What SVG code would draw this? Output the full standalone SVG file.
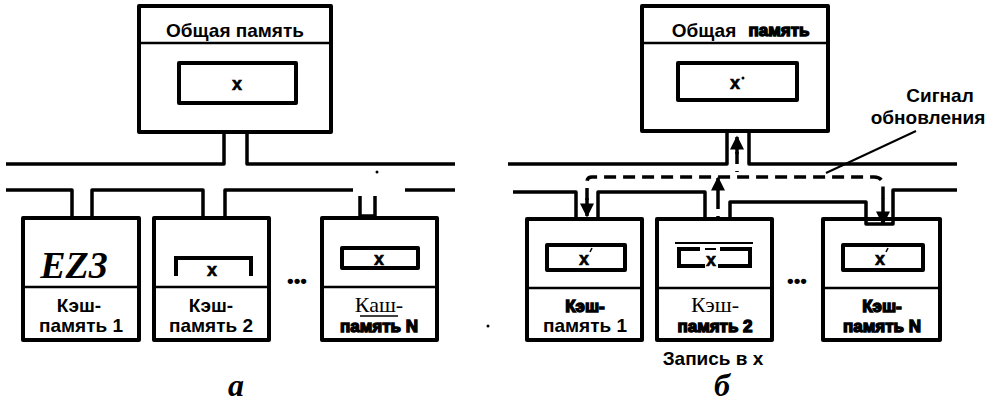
<svg xmlns="http://www.w3.org/2000/svg" width="995" height="406" viewBox="0 0 995 406">
<defs>
<style>
.box{fill:#fff;stroke:#000;stroke-width:4;stroke-linejoin:round}
.sep{stroke:#000;stroke-width:2.5}
.ibox{fill:#fff;stroke:#000;stroke-width:4;stroke-linejoin:round}
.wire{fill:none;stroke:#000;stroke-width:3.5;stroke-linejoin:round}
.thin{fill:none;stroke:#000;stroke-width:2}
.dash{fill:none;stroke:#000;stroke-width:3.5;stroke-dasharray:12 7}
.t{font-family:"Liberation Sans",Arial,sans-serif;font-weight:bold;font-size:19px;text-anchor:middle;fill:#000}
.heavy{font-family:"Liberation Sans",Arial,sans-serif;font-weight:bold;font-size:17px;text-anchor:middle;fill:#000;stroke:#000;stroke-width:1.4}
.serif{font-family:"Liberation Serif","Times New Roman",serif;font-size:22px;text-anchor:middle;fill:#000}
.x{font-family:"Liberation Sans",Arial,sans-serif;font-weight:bold;font-size:18px;text-anchor:middle;fill:#000;stroke:#000;stroke-width:0.6}
.cap{font-family:"Liberation Serif","Times New Roman",serif;font-weight:bold;font-style:italic;text-anchor:middle;fill:#000}
</style>
<marker id="ah" viewBox="0 0 10 10" refX="9" refY="5" markerWidth="5" markerHeight="4" orient="auto" markerUnits="strokeWidth">
<path d="M0,0 L10,5 L0,10 z" fill="#000"/>
</marker>
</defs>

<!-- ===== Part a ===== -->
<g id="a-mem">
<rect class="box" x="139" y="6" width="192" height="126"/>
<line class="sep" x1="139" y1="43" x2="331" y2="43"/>
<text class="t" x="235" y="37" font-size="20">Общая память</text>
<rect class="ibox" x="179" y="63" width="117" height="40"/>
<text class="x" x="237" y="90">x</text>
</g>
<g id="a-cache1">
<rect class="box" x="23" y="218" width="116" height="122"/>
<line class="sep" x1="23" y1="287" x2="139" y2="287"/>
<text class="cap" x="74" y="278" font-size="38">EZ3</text>
<text class="t" x="79" y="312">Кэш-</text>
<text class="t" x="81" y="332">память 1</text>
</g>
<g id="a-cache2">
<rect class="box" x="154" y="218" width="115" height="122"/>
<line class="sep" x1="154" y1="287" x2="269" y2="287"/>
<path d="M176,276 V258 H251 V276" fill="none" stroke="#000" stroke-width="4"/>
<text class="x" x="212" y="276">x</text>
<text class="t" x="211" y="312">Кэш-</text>
<text class="t" x="211" y="332">память 2</text>
</g>
<g id="a-cacheN">
<rect class="box" x="322" y="218" width="115" height="122"/>
<line class="sep" x1="322" y1="287" x2="437" y2="287"/>
<rect class="ibox" x="342" y="248" width="76" height="20"/>
<text class="x" x="379" y="265">x</text>
<text class="serif" x="379" y="312">Каш-</text>
<line x1="360" y1="316" x2="398" y2="316" stroke="#000" stroke-width="1.5"/>
<text class="heavy" x="379" y="332">память N</text>
</g>
<g id="a-dots">
<text class="t" x="297" y="287">•••</text>
<circle cx="488" cy="326" r="1.5" fill="#000"/>
<circle cx="377" cy="172" r="1.5" fill="#000"/>
</g>
<text class="cap" x="236" y="396" font-size="32">a</text>

<g id="a-connectors">
<path class="wire" d="M6,164 H224 V132"/>
<path class="wire" d="M247,132 V164 H455"/>
<path class="wire" d="M6,190 H72 V218"/>
<path class="wire" d="M92,218 V190 H203 V218"/>
<path class="wire" d="M225,218 V190 H353"/>
<path class="wire" d="M360,196 V216 H375 V196" stroke-width="2.5"/>
<path class="wire" d="M405,190 H455"/>
</g>

<!-- ===== Part b ===== -->
<g id="b-mem">
<rect class="box" x="642" y="6" width="186" height="125"/>
<line class="sep" x1="642" y1="43" x2="828" y2="43"/>
<text class="t" x="704" y="37" font-size="20">Общая</text>
<text class="heavy" x="779" y="36">память</text>
<rect class="ibox" x="678" y="63" width="119" height="37"/>
<text class="x" x="735" y="89">x</text>
<circle cx="743" cy="78" r="1.5" fill="#000"/>
</g>
<g id="b-cache1">
<rect class="box" x="527" y="219" width="115" height="121"/>
<line class="sep" x1="527" y1="288" x2="642" y2="288"/>
<rect class="ibox" x="547" y="245" width="78" height="25"/>
<text class="x" x="584" y="265">x</text>
<line x1="590" y1="252" x2="592" y2="248" stroke="#000" stroke-width="1.5"/>
<text class="heavy" x="585" y="312">Кэш-</text>
<text class="t" x="585" y="332">память 1</text>
</g>
<g id="b-cache2">
<rect class="box" x="657" y="219" width="115" height="121"/>
<line class="sep" x1="657" y1="288" x2="772" y2="288"/>
<line x1="675" y1="243" x2="753" y2="243" stroke="#000" stroke-width="2"/>
<path d="M700,249 H679 V266 H705" fill="none" stroke="#000" stroke-width="4"/>
<path d="M720,249 H750 V266 H718" fill="none" stroke="#000" stroke-width="4"/>
<line x1="705" y1="249" x2="716" y2="249" stroke="#000" stroke-width="2"/>
<text class="x" x="711" y="266">x</text>
<text class="serif" x="715" y="312">Кэш-</text>
<text class="heavy" x="715" y="332">память 2</text>
</g>
<g id="b-cacheN">
<rect class="box" x="823" y="219" width="117" height="121"/>
<line class="sep" x1="823" y1="288" x2="940" y2="288"/>
<rect class="ibox" x="843" y="245" width="80" height="25"/>
<text class="x" x="880" y="265">x</text>
<line x1="886" y1="252" x2="888" y2="248" stroke="#000" stroke-width="1.5"/>
<text class="heavy" x="882" y="312">Кэш-</text>
<text class="heavy" x="882" y="332">память N</text>
</g>
<g id="b-labels">
<text class="t" x="797" y="287">•••</text>
<text class="t" x="713" y="365" font-size="17">Запись в x</text>
<text class="t" x="940" y="102" font-size="18">Сигнал</text>
<text class="t" x="928" y="124" font-size="18">обновления</text>
<text class="cap" x="722" y="396" font-size="32">б</text>
</g>

<g id="b-connectors">
<path class="wire" d="M508,164 H727 V131"/>
<path class="wire" d="M749,131 V164 H957"/>
<path class="wire" d="M513,192 H576 V219"/>
<path class="wire" d="M598,219 V192 H705 V219"/>
<path class="wire" d="M730,219 V202 H866 V224 H893 V190 H957"/>
<line class="thin" x1="916" y1="131" x2="826" y2="173"/>
<path class="dash" d="M737,152 V172 M587,200 V182 Q587,177 592,177 H874 Q883,177 883,186 V200"/>
<path class="dash" d="M718,197 V219"/>
<line x1="737" y1="154" x2="737" y2="137" stroke="#000" stroke-width="3.5" marker-end="url(#ah)"/>
<line x1="718" y1="197" x2="718" y2="178" stroke="#000" stroke-width="3.5" marker-end="url(#ah)"/>
<line x1="587" y1="198" x2="587" y2="216" stroke="#000" stroke-width="3.5" marker-end="url(#ah)"/>
<line x1="883" y1="198" x2="883" y2="224" stroke="#000" stroke-width="3.5" marker-end="url(#ah)"/>
</g>
</svg>
